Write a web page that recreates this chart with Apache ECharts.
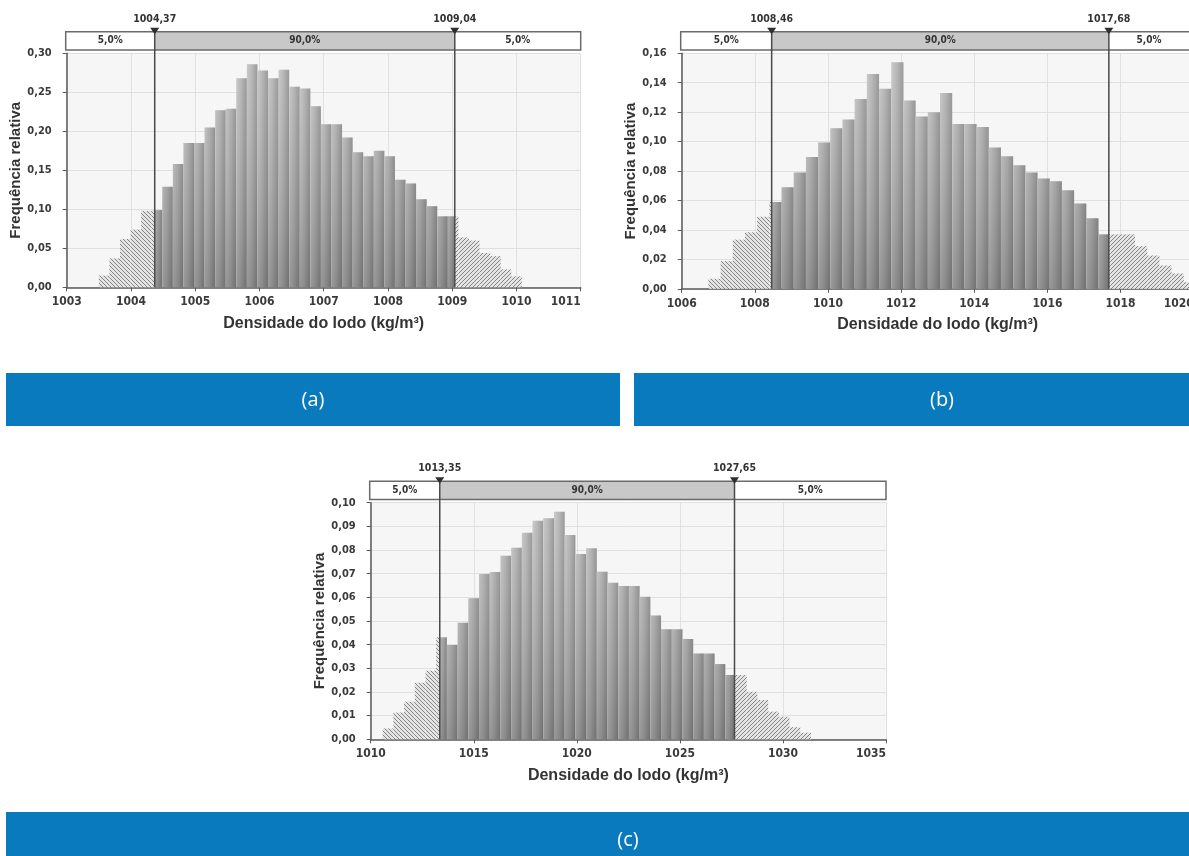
<!DOCTYPE html>
<html>
<head>
<meta charset="utf-8">
<script src="https://cdn.jsdelivr.net/npm/echarts@6/dist/echarts.min.js"></script>
<style>
  html, body { margin: 0; padding: 0; background: #ffffff; }
  #chart { width: 1189px; height: 856px; }
</style>
</head>
<body>
<div id="chart"></div>
<script>
// ---- Histogram data: relative frequency (density) per bin ----
const binStartA = 1003.50, binWidthA = 0.1646;
const freqA = [0.015, 0.037, 0.062, 0.074, 0.098, 0.099, 0.129, 0.158, 0.185, 0.185,
               0.205, 0.227, 0.229, 0.268, 0.286, 0.278, 0.268, 0.279, 0.257, 0.255,
               0.232, 0.209, 0.209, 0.192, 0.173, 0.168, 0.175, 0.168, 0.138, 0.133,
               0.113, 0.104, 0.091, 0.091, 0.064, 0.060, 0.044, 0.040, 0.023, 0.014];
const pctA = [1004.37, 1009.04];

const binStartB = 1006.73, binWidthB = 1 / 3;
const freqB = [0.0068, 0.0188, 0.0334, 0.0384, 0.049, 0.059, 0.069, 0.079, 0.0895, 0.0994,
               0.109, 0.115, 0.129, 0.146, 0.136, 0.154, 0.128, 0.117, 0.120, 0.133,
               0.112, 0.112, 0.110, 0.096, 0.090, 0.084, 0.079, 0.075, 0.073, 0.067,
               0.058, 0.048, 0.037, 0.037, 0.037, 0.029, 0.0226, 0.0158, 0.0104, 0.0045];
const pctB = [1008.46, 1017.68];

const binStartC = 1010.58, binWidthC = 0.5195;
const freqC = [0.0046, 0.0113, 0.0159, 0.0239, 0.029, 0.0431, 0.0399, 0.0493, 0.0596, 0.0699,
               0.0707, 0.0776, 0.081, 0.0873, 0.0924, 0.0934, 0.0962, 0.0863, 0.0783, 0.0807,
               0.0708, 0.0662, 0.0648, 0.0648, 0.0603, 0.0523, 0.0465, 0.0465, 0.0424, 0.0363,
               0.0363, 0.0318, 0.0272, 0.0272, 0.0201, 0.0166, 0.0117, 0.0095, 0.0051, 0.0028];
const pctC = [1013.35, 1027.65];

// Axis ranges and tick steps
const xRangeA = [1003, 1011, 1], yRangeA = [0, 0.30, 0.05];
const xRangeB = [1006, 1020, 2], yRangeB = [0, 0.16, 0.02];
const xRangeC = [1010, 1035, 5], yRangeC = [0, 0.10, 0.01];

// Texts
const tailLabel = '5,0%';
const midLabel = '90,0%';
const xTitle = 'Densidade do lodo (kg/m³)';
const yTitle = 'Frequência relativa';
const captions = ['(a)', '(b)', '(c)'];

// ---- styling helpers ----
const NARROW = "'Liberation Sans Narrow','DejaVu Sans Condensed','Roboto Condensed',sans-serif";
const SANS = "'Liberation Sans',Arial,'DejaVu Sans',sans-serif";
const BLUE = '#0a7abf';

function hatchTile(dir) {
  const s = 4;
  const c = document.createElement('canvas');
  c.width = s; c.height = s;
  const g = c.getContext('2d');
  g.fillStyle = '#e4e4e4';
  g.fillRect(0, 0, s, s);
  g.strokeStyle = '#848484';
  g.lineWidth = 1;
  g.beginPath();
  if (dir === 'back') {
    g.moveTo(-1, -1); g.lineTo(s + 1, s + 1);
    g.moveTo(-1, s - 1); g.lineTo(1, s + 1);
    g.moveTo(s - 1, -1); g.lineTo(s + 1, 1);
  } else {
    g.moveTo(-1, s + 1); g.lineTo(s + 1, -1);
    g.moveTo(-1, 1); g.lineTo(1, -1);
    g.moveTo(s - 1, s + 1); g.lineTo(s + 1, s - 1);
  }
  g.stroke();
  return c;
}
const hatchLeft = { image: hatchTile('back'), repeat: 'repeat' };
const hatchRight = { image: hatchTile('fwd'), repeat: 'repeat' };

const barFill = {
  type: 'linear', x: 0, y: 0, x2: 1, y2: 0,
  colorStops: [
    { offset: 0, color: '#c4c4c4' },
    { offset: 0.45, color: '#b0b0b0' },
    { offset: 1, color: '#8e8e8e' }
  ]
};

function toBins(start, width, freq) {
  return freq.map((f, i) => [start + i * width, start + (i + 1) * width, f]);
}

const fmtComma = (v, d) => v.toFixed(d).replace('.', ',');

// Histogram bars, split into hatched tails and the solid central 90 %
function histRender(pct) {
  return function (params, api) {
    const cs = params.coordSys;
    const x0 = api.value(0), x1 = api.value(1), h = api.value(2);
    const [lo, hi] = pct;
    const shade = {
      type: 'linear', global: true, x: 0, y: cs.y, x2: 0, y2: cs.y + cs.height,
      colorStops: [
        { offset: 0, color: 'rgba(255,255,255,0.12)' },
        { offset: 1, color: 'rgba(0,0,0,0.22)' }
      ]
    };
    const pieces = [];
    if (x0 < lo) pieces.push([x0, Math.min(x1, lo), 'L']);
    if (x1 > lo && x0 < hi) pieces.push([Math.max(x0, lo), Math.min(x1, hi), 'S']);
    if (x1 > hi) pieces.push([Math.max(x0, hi), x1, 'R']);
    const children = [];
    pieces.forEach(([a, b, kind]) => {
      const p0 = api.coord([a, h]);
      const p1 = api.coord([b, 0]);
      const shape = { x: p0[0], y: p0[1], width: p1[0] - p0[0], height: p1[1] - p0[1] };
      if (kind === 'S') {
        children.push({ type: 'rect', shape, style: { fill: barFill } });
        children.push({ type: 'rect', shape, style: { fill: shade } });
      } else {
        children.push({ type: 'rect', shape, style: { fill: kind === 'L' ? hatchLeft : hatchRight } });
      }
    });
    return { type: 'group', children };
  };
}

// Percentile band above the plot, markers and guide lines
function pctRender(params, api) {
  const cs = params.coordSys;
  const lo = api.value(0), hi = api.value(1);
  const top = cs.y - 21.5, bot = cs.y - 3.3;
  const left = cs.x - 1, right = cs.x + cs.width;
  const xl = api.coord([lo, 0])[0], xr = api.coord([hi, 0])[0];
  const baseY = cs.y + cs.height;
  const midY = (top + bot) / 2;
  const txt = (x, y, s, size) => ({
    type: 'text', x, y,
    style: { text: s, fill: '#333', font: 'bold ' + size + 'px ' + NARROW, align: 'center', verticalAlign: 'middle' }
  });
  const children = [
    { type: 'rect', shape: { x: left, y: top, width: xl - left, height: bot - top }, style: { fill: '#ffffff' } },
    { type: 'rect', shape: { x: xl, y: top, width: xr - xl, height: bot - top }, style: { fill: '#c8c8c8' } },
    { type: 'rect', shape: { x: xr, y: top, width: right - xr, height: bot - top }, style: { fill: '#ffffff' } },
    { type: 'rect', shape: { x: left, y: top, width: right - left, height: bot - top }, style: { fill: 'none', stroke: '#6a6a6a', lineWidth: 1.5 } },
    txt((left + xl) / 2, midY, tailLabel, 10),
    txt((xl + xr) / 2, midY, midLabel, 10),
    txt((xr + Math.min(right, 1189)) / 2, midY, tailLabel, 10)
  ];
  [[xl, lo], [xr, hi]].forEach(([x, v]) => {
    children.push({ type: 'line', shape: { x1: x, y1: top, x2: x, y2: baseY }, style: { stroke: '#4a4a4a', lineWidth: 1.5 } });
    children.push({ type: 'polygon', shape: { points: [[x - 4.5, top - 4], [x + 4.5, top - 4], [x, top + 2.5]] }, style: { fill: '#2e2e2e' } });
    children.push(txt(x, top - 13, fmtComma(v, 2), 10.5));
  });
  return { type: 'group', children };
}

// ---- panel layout ----
const panels = [
  { bins: toBins(binStartA, binWidthA, freqA), pct: pctA, xr: xRangeA, yr: yRangeA,
    grid: { left: 66.7, top: 53.3, width: 514, height: 234 } },
  { bins: toBins(binStartB, binWidthB, freqB), pct: pctB, xr: xRangeB, yr: yRangeB,
    grid: { left: 681.7, top: 53.3, width: 512, height: 235.5 } },
  { bins: toBins(binStartC, binWidthC, freqC), pct: pctC, xr: xRangeC, yr: yRangeC,
    grid: { left: 370.7, top: 502.7, width: 515.3, height: 236.6 } }
];

const grids = [], xAxes = [], yAxes = [], series = [];
panels.forEach((p, i) => {
  grids.push(Object.assign({ show: true, backgroundColor: '#f6f6f6', borderWidth: 0,
                             containLabel: false, outerBoundsMode: 'none' }, p.grid));
  xAxes.push({
    gridIndex: i, type: 'value', min: p.xr[0], max: p.xr[1], interval: p.xr[2],
    name: xTitle, nameLocation: 'middle', nameGap: 28,
    nameTextStyle: { fontFamily: SANS, fontWeight: 'bold', fontSize: 16, color: '#333' },
    axisLine: { show: true, onZero: false, lineStyle: { color: '#5a5a5a', width: 1.5 } },
    axisTick: { show: true, length: 4, lineStyle: { color: '#5a5a5a' } },
    axisLabel: { fontFamily: NARROW, fontWeight: 'bold', fontSize: 12, color: '#3a3a3a', margin: 9,
                 showMinLabel: true, showMaxLabel: true, alignMaxLabel: 'right',
                 formatter: v => String(Math.round(v)) },
    splitLine: { show: true, lineStyle: { color: '#e0e0e0', width: 1 } }
  });
  yAxes.push({
    gridIndex: i, type: 'value', min: p.yr[0], max: p.yr[1], interval: p.yr[2],
    name: yTitle, nameLocation: 'middle', nameRotate: 90, nameGap: 37,
    nameTextStyle: { fontFamily: SANS, fontWeight: 'bold', fontSize: 15, color: '#333' },
    axisLine: { show: true, lineStyle: { color: '#5a5a5a', width: 1.5 } },
    axisTick: { show: true, length: 4, lineStyle: { color: '#5a5a5a' } },
    axisLabel: { fontFamily: NARROW, fontWeight: 'bold', fontSize: 11, color: '#3a3a3a', margin: 15,
                 formatter: v => fmtComma(v, 2) },
    splitLine: { show: true, lineStyle: { color: '#e0e0e0', width: 1 } }
  });
  series.push({
    type: 'custom', xAxisIndex: i, yAxisIndex: i, z: 2,
    renderItem: histRender(p.pct), data: p.bins, silent: true
  });
  series.push({
    type: 'custom', xAxisIndex: i, yAxisIndex: i, z: 5,
    renderItem: pctRender, data: [p.pct], silent: true
  });
});

// Caption bands under each panel
const captionBoxes = [
  { x: 6, y: 373, w: 614, h: 53 },
  { x: 634, y: 373, w: 560, h: 53 },
  { x: 6, y: 812, w: 1188, h: 50 }
];
const graphic = [];
captionBoxes.forEach((b, i) => {
  graphic.push({ type: 'rect', shape: { x: b.x, y: b.y, width: b.w, height: b.h }, style: { fill: BLUE }, silent: true });
  const cx = i === 1 ? 942 : (i === 0 ? 313 : 628);
  const cy = i === 2 ? 840 : 400;
  graphic.push({ type: 'text', x: cx, y: cy, silent: true,
    style: { text: captions[i], fill: '#ffffff', font: "20px 'Open Sans','Noto Sans',sans-serif", align: 'center', verticalAlign: 'middle' } });
});

const chart = echarts.init(document.getElementById('chart'), null, { renderer: 'canvas' });
chart.setOption({
  animation: false,
  backgroundColor: '#ffffff',
  grid: grids,
  xAxis: xAxes,
  yAxis: yAxes,
  series,
  graphic
});
</script>
</body>
</html>
